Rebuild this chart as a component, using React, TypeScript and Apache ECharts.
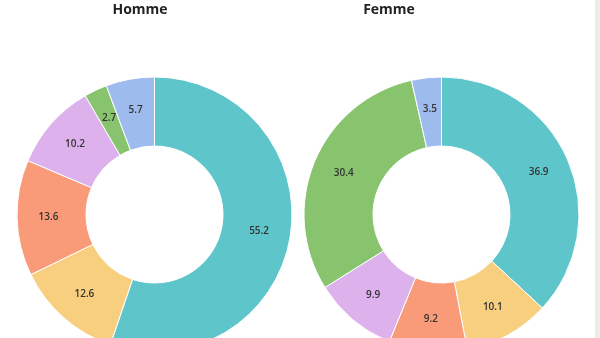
import React, { useEffect, useRef } from "react";
import * as echarts from "echarts";

const categories = ["A", "B", "C", "D", "E", "F"];
const hommeValues = [55.2, 12.6, 13.6, 10.2, 2.7, 5.7];
const femmeValues = [36.9, 10.1, 9.2, 9.9, 30.4, 3.5];
const colors = ["#5EC5CA", "#F7CF7F", "#F99B78", "#DDB1EC", "#87C46D", "#9EBBEE"];
const titles = ["Homme", "Femme"];

export default function App() {
  const ref = useRef<HTMLDivElement>(null);
  useEffect(() => {
    document.body.style.margin = "0";
    const chart = echarts.init(ref.current!, null, { renderer: "svg" });
    const mk = (vals: number[], cx: number) => ({
      type: "pie",
      center: [cx, 214.5],
      radius: [68.5, 137.5],
      startAngle: 90,
      clockwise: true,
      avoidLabelOverlap: false,
      itemStyle: { borderColor: "#fff", borderWidth: 1 },
      label: {
        show: true,
        position: "inside",
        fontSize: 10,
        fontFamily: "Open Sans",
        fontWeight: 600,
        color: "#333",
        offset: [0, -1.5],
        formatter: (p: any) => String(p.value),
      },
      labelLine: { show: false },
      emphasis: { disabled: true },
      data: vals.map((v, i) => ({ name: categories[i], value: v, itemStyle: { color: colors[i] } })),
    });
    const titleStyle = { fontSize: 14, fontWeight: "bold", fontFamily: "Open Sans", color: "#222" };
    chart.setOption({
      animation: false,
      title: [
        { text: titles[0], left: 135, top: -4, textAlign: "center", textStyle: titleStyle },
        { text: titles[1], left: 384, top: -4, textAlign: "center", textStyle: titleStyle },
      ],
      series: [mk(hommeValues, 154.5), mk(femmeValues, 441.5)],
      graphic: [
        { type: "rect", shape: { x: 596, y: 0, width: 4, height: 338 }, style: { fill: "#ececec" } },
        { type: "line", shape: { x1: 596, y1: 0, x2: 596, y2: 338 }, style: { stroke: "#e0e0e0", lineWidth: 1 } },
      ],
    });
    return () => chart.dispose();
  }, []);
  return <div ref={ref} style={{ position: "fixed", left: 0, top: 0, width: 600, height: 338 }} />;
}
